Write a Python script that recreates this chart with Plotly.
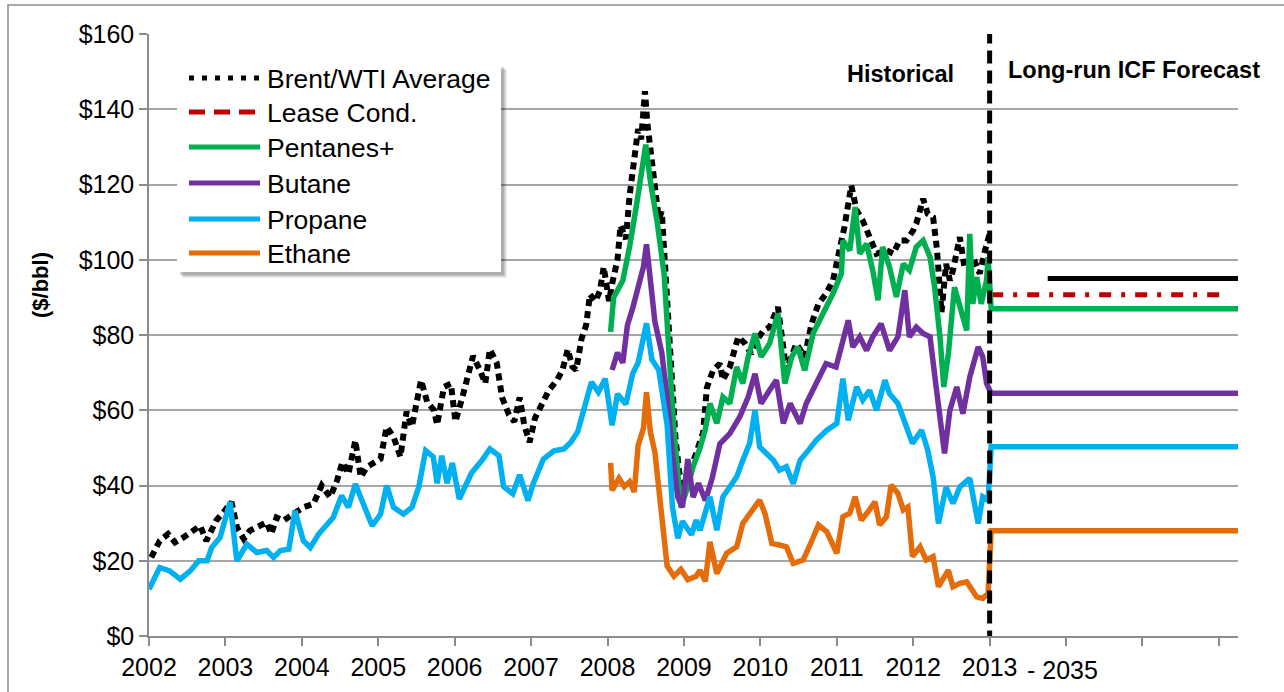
import plotly.graph_objects as go

# ---- data (decimal year, $/bbl) ----
brent_dates = [
    2002.03, 2002.14, 2002.25, 2002.34, 2002.45, 2002.56, 2002.67, 2002.75, 2002.88, 2002.99,
    2003.08, 2003.15, 2003.24, 2003.32, 2003.45, 2003.54, 2003.60, 2003.67, 2003.76, 2003.89,
    2004.02, 2004.15, 2004.26, 2004.37, 2004.46, 2004.53, 2004.61, 2004.70, 2004.77, 2004.85,
    2004.94, 2005.03, 2005.11, 2005.20, 2005.29, 2005.37, 2005.44, 2005.56, 2005.64, 2005.73,
    2005.77, 2005.86, 2005.95, 2006.01, 2006.10, 2006.19, 2006.24, 2006.33, 2006.40, 2006.46,
    2006.55, 2006.62, 2006.71, 2006.78, 2006.85, 2006.91, 2006.98, 2007.05, 2007.14, 2007.23,
    2007.34, 2007.41, 2007.48, 2007.54, 2007.59, 2007.66, 2007.72, 2007.77, 2007.84, 2007.90,
    2007.95, 2008.02, 2008.06, 2008.13, 2008.17, 2008.24, 2008.29, 2008.33, 2008.40, 2008.44,
    2008.49, 2008.52, 2008.58, 2008.62, 2008.67, 2008.71, 2008.76, 2008.80, 2008.85, 2008.89,
    2008.94, 2009.01, 2009.10, 2009.19, 2009.25, 2009.30, 2009.38, 2009.47, 2009.51, 2009.60,
    2009.71, 2009.80, 2009.88, 2009.95, 2010.04, 2010.12, 2010.23, 2010.34, 2010.47, 2010.58,
    2010.67, 2010.76, 2010.86, 2010.95, 2011.04, 2011.10, 2011.19, 2011.26, 2011.34, 2011.43,
    2011.52, 2011.65, 2011.74, 2011.82, 2011.91, 2012.00, 2012.04, 2012.13, 2012.19, 2012.26,
    2012.31, 2012.37, 2012.43, 2012.48, 2012.52, 2012.61, 2012.67, 2012.78, 2012.87, 2012.94,
    2013.00,
]
brent_prices = [
    20.9, 25.3, 27.1, 24.9, 26.2, 28.0, 29.3, 25.3, 30.7, 33.3,
    35.6, 28.9, 25.8, 28.0, 29.3, 30.2, 27.1, 31.5, 30.7, 32.4,
    34.2, 35.1, 40.0, 36.9, 41.3, 46.2, 43.1, 52.0, 42.2, 44.9,
    45.8, 47.1, 55.6, 52.9, 47.6, 59.6, 55.6, 68.0, 62.2, 60.0,
    56.1, 66.2, 67.1, 57.0, 63.4, 70.7, 74.4, 70.7, 67.1, 76.2,
    72.6, 63.4, 58.8, 57.0, 63.4, 56.1, 51.5, 57.9, 61.6, 65.2,
    68.0, 70.7, 76.2, 71.6, 70.7, 79.0, 82.6, 90.8, 89.0, 91.7,
    98.1, 89.0, 93.6, 100.0, 109.1, 105.5, 117.3, 123.7, 134.7, 132.0,
    144.8, 136.5, 125.6, 120.1, 111.0, 112.8, 96.3, 81.7, 68.9, 52.4,
    43.3, 39.7, 45.0, 50.0, 54.0, 66.0, 70.6, 72.4, 68.0, 71.5,
    79.5, 77.7, 75.0, 78.6, 81.2, 82.1, 87.4, 70.6, 77.7, 74.2,
    83.0, 88.3, 91.0, 94.5, 102.5, 108.7, 119.7, 113.1, 110.4, 106.0,
    101.6, 102.5, 101.6, 105.1, 105.1, 107.8, 109.6, 116.2, 112.2, 111.3,
    103.0, 86.0, 98.9, 94.5, 97.2, 106.0, 98.1, 100.7, 96.3, 102.5,
    106.9,
]

pentanes_dates = [
    2008.04, 2008.08, 2008.20, 2008.29, 2008.38, 2008.44, 2008.50, 2008.56, 2008.65, 2008.74,
    2008.80, 2008.87, 2008.92, 2008.96, 2009.05, 2009.12, 2009.21, 2009.28, 2009.34, 2009.43,
    2009.51, 2009.60, 2009.69, 2009.77, 2009.84, 2009.93, 2010.01, 2010.12, 2010.23, 2010.32,
    2010.41, 2010.49, 2010.58, 2010.69, 2010.82, 2010.95, 2011.06, 2011.08, 2011.17, 2011.24,
    2011.30, 2011.39, 2011.47, 2011.54, 2011.60, 2011.69, 2011.78, 2011.87, 2011.95, 2012.04,
    2012.13, 2012.22, 2012.28, 2012.35, 2012.40, 2012.46, 2012.54, 2012.63, 2012.70, 2012.74,
    2012.78, 2012.83, 2012.89, 2012.96, 2012.98,
]
pentanes_prices = [
    80.8, 90.0, 94.5, 103.6, 114.6, 122.8, 130.6, 121.0, 110.0, 96.3,
    75.3, 54.3, 43.3, 34.2, 39.7, 45.0, 50.0, 55.0, 61.8, 56.5,
    63.5, 61.8, 71.5, 67.1, 74.2, 80.4, 74.2, 77.7, 85.7, 67.1,
    74.2, 76.8, 70.6, 80.4, 85.7, 91.0, 96.3, 105.1, 102.5, 114.0,
    101.6, 104.2, 97.2, 89.2, 103.4, 98.1, 90.1, 98.9, 97.2, 103.4,
    105.1, 100.7, 92.7, 79.5, 66.2, 75.0, 92.7, 86.5, 81.2, 106.9,
    88.3, 95.4, 88.3, 94.5, 100.7,
]

butane_dates = [
    2008.06, 2008.13, 2008.20, 2008.26, 2008.33, 2008.40, 2008.47, 2008.51, 2008.56, 2008.62,
    2008.71, 2008.78, 2008.85, 2008.92, 2008.98, 2009.05, 2009.12, 2009.19, 2009.28, 2009.37,
    2009.47, 2009.60, 2009.73, 2009.84, 2009.93, 2010.01, 2010.12, 2010.21, 2010.30, 2010.39,
    2010.52, 2010.60, 2010.73, 2010.86, 2010.99, 2011.08, 2011.15, 2011.21, 2011.30, 2011.39,
    2011.47, 2011.58, 2011.69, 2011.80, 2011.89, 2011.95, 2012.04, 2012.13, 2012.22, 2012.30,
    2012.37, 2012.41, 2012.48, 2012.57, 2012.65, 2012.74, 2012.85, 2012.91, 2012.96,
]
butane_prices = [
    70.7, 75.3, 72.6, 82.6, 87.2, 92.7, 98.1, 104.1, 93.6, 83.5,
    75.3, 63.4, 47.9, 36.9, 34.2, 47.0, 36.9, 40.6, 36.0, 42.0,
    51.1, 53.8, 58.2, 63.5, 69.7, 61.8, 65.3, 68.0, 56.5, 61.8,
    56.5, 61.8, 67.1, 72.4, 71.5, 78.6, 83.9, 76.8, 79.5, 75.9,
    79.5, 83.0, 75.9, 79.5, 91.9, 79.5, 82.1, 80.4, 79.5, 66.2,
    54.7, 48.5, 60.0, 66.2, 59.1, 68.8, 76.8, 74.2, 67.1,
]

propane_dates = [
    2002.00, 2002.14, 2002.27, 2002.41, 2002.54, 2002.65, 2002.76, 2002.82, 2002.93, 2003.06,
    2003.15, 2003.28, 2003.41, 2003.54, 2003.63, 2003.72, 2003.83, 2003.91, 2004.02, 2004.11,
    2004.22, 2004.31, 2004.41, 2004.52, 2004.61, 2004.70, 2004.81, 2004.92, 2005.03, 2005.11,
    2005.20, 2005.33, 2005.44, 2005.53, 2005.62, 2005.72, 2005.77, 2005.83, 2005.90, 2005.97,
    2006.06, 2006.13, 2006.22, 2006.35, 2006.46, 2006.58, 2006.64, 2006.76, 2006.85, 2006.96,
    2007.03, 2007.16, 2007.30, 2007.43, 2007.52, 2007.61, 2007.70, 2007.79, 2007.88, 2007.97,
    2008.06, 2008.13, 2008.24, 2008.33, 2008.40, 2008.47, 2008.51, 2008.58, 2008.67, 2008.78,
    2008.85, 2008.92, 2008.98, 2009.10, 2009.16, 2009.21, 2009.34, 2009.43, 2009.51, 2009.60,
    2009.69, 2009.77, 2009.86, 2009.93, 2009.99, 2010.08, 2010.17, 2010.25, 2010.34, 2010.43,
    2010.52, 2010.63, 2010.73, 2010.87, 2011.00, 2011.08, 2011.15, 2011.26, 2011.34, 2011.43,
    2011.52, 2011.63, 2011.69, 2011.80, 2011.91, 2011.99, 2012.11, 2012.19, 2012.26, 2012.33,
    2012.43, 2012.52, 2012.61, 2012.74, 2012.85, 2012.91, 2012.98,
]
propane_prices = [
    12.4, 18.2, 17.3, 15.1, 17.3, 20.0, 20.0, 23.5, 26.2, 35.6,
    20.0, 24.4, 22.2, 22.7, 20.9, 22.7, 23.1, 33.3, 25.3, 23.5,
    27.1, 29.3, 31.5, 37.3, 34.2, 40.4, 35.1, 29.3, 32.4, 40.0,
    34.2, 32.4, 34.2, 39.6, 49.3, 47.6, 40.6, 47.9, 40.6, 46.0,
    36.4, 39.7, 43.3, 46.5, 49.7, 47.9, 39.7, 37.8, 42.8, 36.0,
    40.6, 47.0, 49.2, 49.7, 51.5, 54.3, 61.6, 67.5, 64.8, 68.4,
    56.0, 64.3, 61.6, 69.8, 72.6, 79.9, 83.1, 73.5, 70.7, 56.1,
    34.2, 26.0, 30.5, 26.9, 30.8, 28.1, 37.0, 28.1, 37.0, 39.6,
    42.3, 46.7, 51.2, 60.0, 50.3, 48.5, 46.7, 44.1, 45.0, 40.5,
    46.7, 49.4, 52.0, 54.7, 56.5, 68.4, 57.3, 66.2, 62.7, 65.3,
    60.0, 68.0, 64.4, 61.8, 55.6, 51.2, 54.7, 49.4, 42.3, 29.9,
    39.6, 35.2, 39.6, 41.9, 29.9, 37.0, 36.1,
]

ethane_dates = [
    2008.04, 2008.06, 2008.15, 2008.22, 2008.29, 2008.35, 2008.40, 2008.47, 2008.51, 2008.56,
    2008.62, 2008.69, 2008.78, 2008.87, 2008.96, 2009.05, 2009.16, 2009.21, 2009.28, 2009.34,
    2009.43, 2009.56, 2009.69, 2009.77, 2009.86, 2009.99, 2010.06, 2010.15, 2010.25, 2010.34,
    2010.43, 2010.56, 2010.65, 2010.76, 2010.87, 2011.00, 2011.08, 2011.17, 2011.24, 2011.32,
    2011.41, 2011.50, 2011.56, 2011.65, 2011.71, 2011.80, 2011.87, 2011.93, 2011.99, 2012.09,
    2012.17, 2012.26, 2012.33, 2012.46, 2012.52, 2012.61, 2012.70, 2012.83, 2012.91, 2012.98,
]
ethane_prices = [
    46.0, 38.7, 41.9, 39.7, 41.0, 38.3, 50.6, 55.2, 64.8, 54.3,
    48.8, 34.2, 18.6, 15.9, 17.7, 15.0, 15.9, 17.5, 14.5, 25.0,
    16.6, 22.0, 23.7, 29.9, 32.6, 36.1, 32.6, 24.6, 24.2, 23.7,
    19.3, 20.2, 24.2, 29.5, 27.7, 22.0, 31.7, 32.6, 37.0, 30.8,
    33.0, 35.7, 29.5, 31.7, 40.1, 37.9, 33.5, 34.3, 21.1, 23.7,
    20.2, 21.1, 13.1, 17.5, 13.1, 14.0, 14.4, 10.4, 10.0, 11.3,
]

# long-run forecast levels (2013 - 2035)
forecast_start = 2013.02
forecast_end = 2016.27
brent_forecast_start = 2013.76
lease_forecast_end = 2016.10
forecast = {
    "Brent/WTI Average": 95.0,
    "Lease Cond.": 90.7,
    "Pentanes+": 87.0,
    "Butane": 64.5,
    "Propane": 50.3,
    "Ethane": 28.0,
}

tick_years = list(range(2002, 2017))
tick_labels = [str(y) for y in range(2002, 2014)] + ["", "", ""]
forecast_label = "- 2035"

colors = {
    "Brent/WTI Average": "#000000",
    "Lease Cond.": "#c00000",
    "Pentanes+": "#00b050",
    "Butane": "#7030a0",
    "Propane": "#00b0f0",
    "Ethane": "#e46c0a",
}

FONT = "Liberation Sans, Arial, sans-serif"


def px(x):
    # pixel -> paper (plot area spans 149..1238 horizontally)
    return (x - 149) / 1089


def py(y):
    # pixel -> paper (plot area spans 34..636 vertically)
    return (636 - y) / 602


fig = go.Figure()

# historical Brent (thick dotted)
fig.add_trace(go.Scatter(
    x=brent_dates, y=brent_prices, mode="lines",
    line=dict(color=colors["Brent/WTI Average"], width=6, dash="7px,5px"),
))
fig.add_trace(go.Scatter(
    x=[brent_forecast_start, forecast_end],
    y=[forecast["Brent/WTI Average"]] * 2, mode="lines",
    line=dict(color=colors["Brent/WTI Average"], width=5),
))
fig.add_trace(go.Scatter(
    x=[forecast_start, lease_forecast_end],
    y=[forecast["Lease Cond."]] * 2, mode="lines",
    line=dict(color=colors["Lease Cond."], width=5, dash="12px,10px,4px,10px"),
))

for name, dates, prices in [
    ("Pentanes+", pentanes_dates, pentanes_prices),
    ("Butane", butane_dates, butane_prices),
    ("Propane", propane_dates, propane_prices),
    ("Ethane", ethane_dates, ethane_prices),
]:
    fig.add_trace(go.Scatter(
        x=dates + [forecast_start, forecast_end],
        y=prices + [forecast[name]] * 2,
        mode="lines",
        line=dict(color=colors[name], width=5.5),
    ))

shapes = []
# outer frame
shapes.append(dict(type="rect", xref="paper", yref="paper",
                   x0=px(8), x1=px(1300), y0=py(5), y1=py(710),
                   line=dict(color="#8c8c8c", width=1.5), layer="below"))
# historical / forecast divider
shapes.append(dict(type="line", xref="x", yref="y", x0=2013, x1=2013, y0=-2, y1=160,
                   line=dict(color="black", width=5, dash="13px,7px")))

# legend box with soft shadow
for off, op in [(6, 0.06), (5, 0.08), (4, 0.10), (3, 0.12)]:
    shapes.append(dict(type="rect", xref="paper", yref="paper",
                       x0=px(177 + off), x1=px(501 + off), y0=py(64 + off), y1=py(272 + off),
                       fillcolor="rgba(0,0,0,%s)" % op, line=dict(width=0)))
shapes.append(dict(type="rect", xref="paper", yref="paper",
                   x0=px(177), x1=px(501), y0=py(64), y1=py(272),
                   fillcolor="white", line=dict(width=0)))

legend_rows = [78, 112, 147, 183, 219, 253]
legend_dash = {
    "Brent/WTI Average": "5px,8px",
    "Lease Cond.": "16px,9px",
}
annotations = []
for (name, color), ry in zip(colors.items(), legend_rows):
    shapes.append(dict(type="line", xref="paper", yref="paper",
                       x0=px(189), x1=px(260), y0=py(ry), y1=py(ry),
                       line=dict(color=color, width=5, dash=legend_dash.get(name, "solid"))))
    annotations.append(dict(xref="paper", yref="paper", x=px(265), y=py(ry + 1),
                            text=name, showarrow=False, xanchor="left", yanchor="middle",
                            font=dict(family=FONT, size=26.5, color="black")))

annotations += [
    dict(xref="paper", yref="paper", x=px(901), y=py(74), text="<b>Historical</b>",
         showarrow=False, xanchor="center", yanchor="middle",
         font=dict(family=FONT, size=23.5, color="black")),
    dict(xref="paper", yref="paper", x=px(1134), y=py(70), text="<b>Long-run ICF Forecast</b>",
         showarrow=False, xanchor="center", yanchor="middle",
         font=dict(family=FONT, size=23.5, color="black")),
    dict(xref="paper", yref="paper", x=px(40), y=py(285), text="<b>($/bbl)</b>",
         showarrow=False, xanchor="center", yanchor="middle", textangle=-90,
         font=dict(family=FONT, size=22, color="black")),
    dict(xref="paper", yref="paper", x=px(1025), y=py(670), text=forecast_label,
         showarrow=False, xanchor="left", yanchor="middle",
         font=dict(family=FONT, size=25, color="black")),
]

fig.update_layout(
    width=1284, height=692,
    margin=dict(l=149, r=46, t=34, b=56),
    paper_bgcolor="white", plot_bgcolor="white",
    showlegend=False,
    font=dict(family=FONT, size=25, color="black"),
    shapes=shapes,
    annotations=annotations,
    xaxis=dict(
        range=[2002, 2016.25], tickmode="array", tickvals=tick_years, ticktext=tick_labels,
        showgrid=False, zeroline=False, showline=True, linecolor="#8c8c8c", linewidth=1.5,
        ticks="outside", ticklen=8, tickcolor="#8c8c8c", tickwidth=1.5,
    ),
    yaxis=dict(
        range=[0, 160], dtick=20, tickprefix="$", showgrid=True, gridcolor="#a6a6a6",
        gridwidth=1.5, zeroline=False, showline=True, linecolor="#8c8c8c", linewidth=1.5,
        ticks="outside", ticklen=8, tickcolor="#8c8c8c", tickwidth=1.5,
    ),
)

# drop the default page margin so the figure sits at the window's top-left corner
fig.write_html("out.html", config={"displayModeBar": False},
               post_script="document.body.style.margin = '0';")
